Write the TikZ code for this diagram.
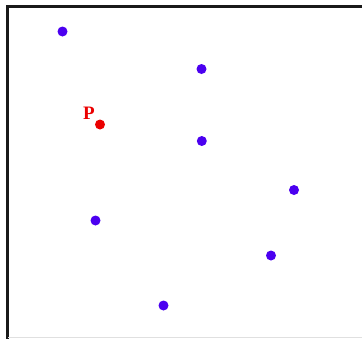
\documentclass[tikz,border=0pt]{standalone}
\usepackage{fontspec}
\setmainfont{Liberation Serif}
\begin{document}
\begin{tikzpicture}[x=1pt,y=-1pt,
  bdot/.style={circle,fill=blueviolet,inner sep=0pt,minimum size=10pt},
  rdot/.style={circle,fill=redp,inner sep=0pt,minimum size=10pt},
  frame/.style={line width=2.6pt,black!90}]
\definecolor{blueviolet}{RGB}{75,0,240}
\definecolor{redp}{RGB}{235,0,0}
\useasboundingbox (0,0) rectangle (362,338);
\coordinate (tl) at (7.3,6.3);
\coordinate (tr) at (362,6.3);
\coordinate (bl) at (7.3,338);
\draw[frame,line cap=rect] (tr) -- (tl) -- (bl);
\draw[black!12,line width=0.8pt] (8,337.4) -- (362,337.4);
\node[bdot] (a) at (62.5,31.5) {};
\node[bdot] (b) at (201.5,69) {};
\node[rdot] (p) at (100,124.5) {};
\node[text=redp,font=\bfseries\fontsize{19}{19}\selectfont,inner sep=0pt,anchor=base] (pl) at (89,119) {P};
\node[bdot] (c) at (201.8,141) {};
\node[bdot] (d) at (294,190) {};
\node[bdot] (e) at (95.5,220.5) {};
\node[bdot] (f) at (271,255.5) {};
\node[bdot] (g) at (163.5,305.5) {};
\end{tikzpicture}
\end{document}
